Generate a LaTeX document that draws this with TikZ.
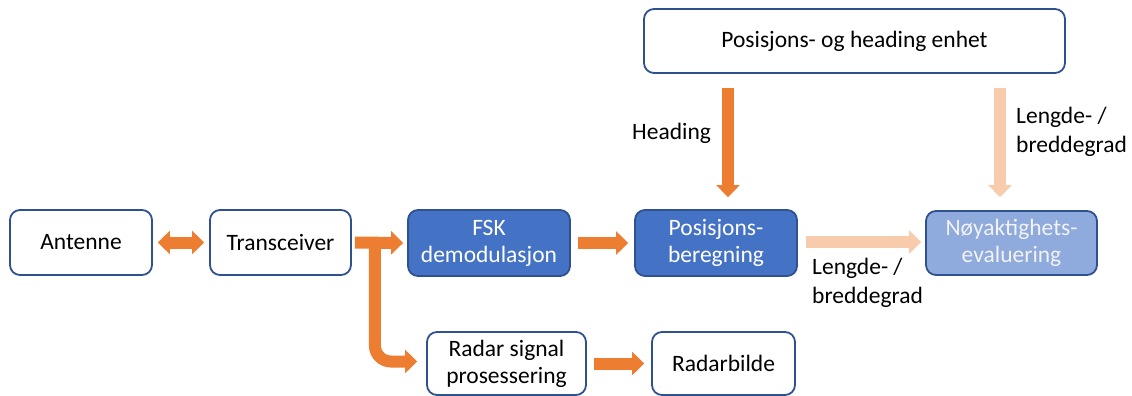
\documentclass[tikz,border=0pt]{standalone}
\usepackage{fontspec}
\setmainfont{Carlito}
\usetikzlibrary{arrows.meta}
\definecolor{bord}{HTML}{2F528F}
\definecolor{bfill}{HTML}{4472C4}
\definecolor{lfill}{HTML}{8FAADC}
\definecolor{orng}{HTML}{ED7D31}
\definecolor{peach}{HTML}{F8CBAD}
\tikzset{
  box/.style={draw=bord, line width=1.8pt, rounded corners=10pt, fill=white, align=center, inner sep=0pt, font=\fontsize{23.5}{27}\selectfont},
  dbox/.style={box, fill=bfill, text=white},
  lbox/.style={box, fill=lfill, text=white!95!black},
  barrow/.style={draw=orng, line width=12pt, -{Triangle[width=23pt,length=12pt]}},
  dbarrow/.style={draw=orng, line width=12pt, {Triangle[width=23pt,length=12pt]}-{Triangle[width=23pt,length=12pt]}},
  parrow/.style={draw=peach, line width=12pt, -{Triangle[width=23pt,length=12pt]}},
  lbl/.style={inner sep=0pt, align=left, anchor=west, font=\fontsize{23.5}{29}\selectfont}
}
\begin{document}
\begin{tikzpicture}[x=1pt,y=-1pt]
\useasboundingbox (0,0) rectangle (1132,396);
\node[box, minimum width=142pt, minimum height=65pt] (ant) at (81,242.5) {Antenne};
\node[box, minimum width=141pt, minimum height=65pt] (trx) at (280.5,242.5) {Transceiver};
\node[dbox, minimum width=162pt, minimum height=66pt] (fsk) at (489,243) {FSK\\demodulasjon};
\node[dbox, minimum width=162pt, minimum height=66pt] (pos) at (716,243) {Posisjons-\\beregning};
\node[lbox, minimum width=171pt, minimum height=64pt] (noy) at (1011.5,243) {Nøyaktighets-\\evaluering};
\node[box, minimum width=159pt, minimum height=63pt] (rad) at (506.5,363.5) {Radar signal\\prosessering};
\node[box, minimum width=143pt, minimum height=63pt] (bil) at (723.5,363.5) {Radarbilde};
\node[box, minimum width=421pt, minimum height=64pt] (top) at (854.5,41) {Posisjons- og heading enhet};

\draw[dbarrow] ([xshift=5pt]ant.east) -- ([xshift=-5pt]trx.west);
\draw[barrow] ([xshift=3pt]trx.east) -- ([xshift=-4pt]fsk.west);
\coordinate (br) at ([xshift=23pt]trx.east);
\draw[barrow, rounded corners=16pt] (br) |- ([xshift=-9pt,yshift=2pt]rad.west);
\draw[barrow] ([xshift=7pt]fsk.east) -- ([xshift=-6pt]pos.west);
\draw[barrow] ([xshift=7pt]rad.east) -- ([xshift=-7pt]bil.west);
\draw[parrow] ([xshift=8pt,yshift=1pt]pos.east) -- ([xshift=-4pt,yshift=1pt]noy.west);

\coordinate (h2) at ([xshift=12pt,yshift=12pt]pos.north);
\coordinate (h1) at ([yshift=-14pt]h2 |- top.south);
\draw[barrow] (h1) -- (h2);
\coordinate (l2) at ([xshift=-11.5pt,yshift=13pt]noy.north);
\coordinate (l1) at ([yshift=-14pt]l2 |- top.south);
\draw[parrow] (l1) -- (l2);

\node[lbl] (hl) at (632,133) {Heading};
\node[lbl] (ll1) at (1016,132) {Lengde- /\\breddegrad};
\node[lbl] (ll2) at (812,283) {Lengde- /\\breddegrad};
\end{tikzpicture}
\end{document}
